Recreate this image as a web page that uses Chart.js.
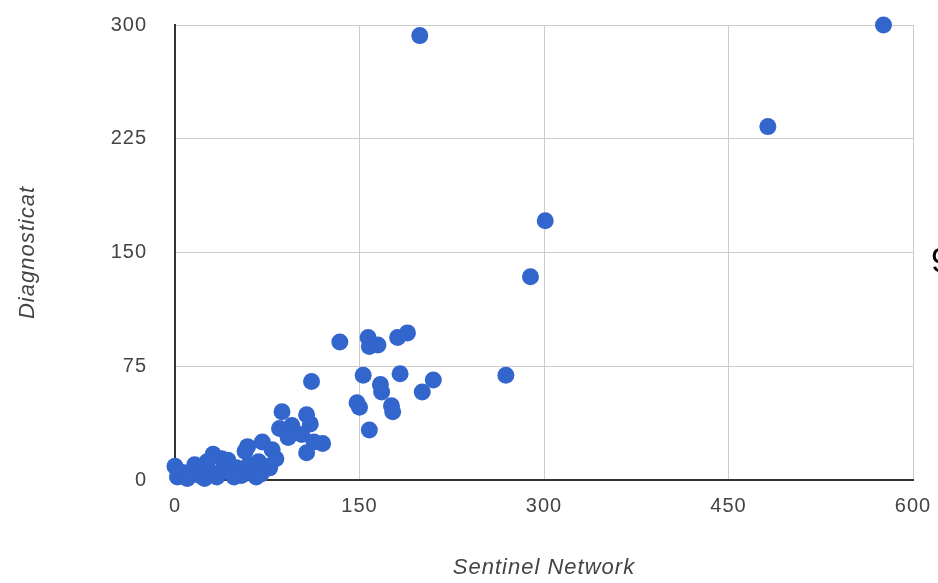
<!DOCTYPE html>
<html>
<head>
<meta charset="utf-8">
<script src="https://cdn.jsdelivr.net/npm/chart.js@4"></script>
<style>
  html, body { margin: 0; padding: 0; background: #fff; overflow: hidden; }
  #wrap { position: relative; width: 938px; height: 583px; }
  #cut { position: absolute; left: 931px; top: 242px; font: 35px "Liberation Sans", Arial, sans-serif; line-height: 35px; color: #000; }
</style>
</head>
<body>
<div id="wrap">
  <canvas id="chart" width="938" height="583"></canvas>
  <span id="cut">9</span>
</div>
<script>
// Sentinel Network (x) vs Diagnosticat (y)
const sentinel = [
  576, 199, 482, 301, 289, 269, 210, 201,
  189, 181, 134, 157, 158, 165,
  153, 183, 167, 168, 148, 150, 176, 177, 158, 111,
  87, 107, 110, 85, 103, 120, 107, 71, 79, 59, 95, 92, 113,
  0, 2, 6, 10, 16, 20, 24, 28, 31, 34, 38, 43, 45, 50, 54, 57, 60, 63, 66, 68, 73, 77, 82, 40, 26, 12, 48, 70
];
const diagnosticat = [
  300, 293, 233, 171, 134, 69, 66, 58,
  97, 94, 91, 94, 88, 89,
  69, 70, 63, 58, 51, 48, 49, 45, 33, 65,
  45, 43, 37, 34, 30, 24, 18, 25, 20, 22, 36, 28, 25,
  9, 2, 5, 1, 10, 3, 1, 6, 17, 2, 14, 13, 5, 8, 3, 19, 10, 6, 2, 12, 9, 8, 14, 9, 12, 4, 2, 4
];
const xTicks = [0, 150, 300, 450, 600];
const yTicks = [0, 75, 150, 225, 300];

const points = sentinel.map((x, i) => ({ x, y: diagnosticat[i] }));

const spacing = {
  id: 'spacing',
  beforeUpdate(chart) { chart.ctx.letterSpacing = '1px'; },
  beforeDraw(chart) { chart.ctx.letterSpacing = '1px'; }
};

// keep the plot box where the layout padding says, ignore label overhang
function noOverhang(axis) {
  axis.paddingTop = 0;
  axis.paddingBottom = 0;
  axis.paddingLeft = 0;
  axis.paddingRight = 0;
}

const tickFont = { family: '"Liberation Sans", Arial, sans-serif', size: 20 };
const titleFont = { family: '"Liberation Sans", Arial, sans-serif', size: 22, style: 'italic' };

new Chart(document.getElementById('chart').getContext('2d'), {
  type: 'scatter',
  data: {
    datasets: [{
      data: points,
      backgroundColor: '#3366cc',
      borderColor: '#3366cc',
      borderWidth: 0,
      pointRadius: 8.5,
      pointHoverRadius: 8.5,
      clip: false,
    }],
  },
  options: {
    responsive: false,
    animation: false,
    devicePixelRatio: 1,
    layout: { padding: { left: 0, top: 25, right: 25, bottom: 0 } },
    plugins: { legend: { display: false }, tooltip: { enabled: false } },
    scales: {
      x: {
        type: 'linear',
        min: 0,
        max: 600,
        afterBuildTicks: axis => { axis.ticks = xTicks.map(v => ({ value: v })); },
        afterFit: axis => { axis.height = 103; noOverhang(axis); },
        grid: { color: '#cccccc', lineWidth: 1, drawTicks: false },
        border: { color: '#333333', width: 2 },
        ticks: { color: '#444444', font: tickFont, padding: 14, maxRotation: 0 },
        title: { display: true, text: 'Sentinel Network', color: '#444444', font: titleFont, padding: { top: 0, bottom: 2 } },
      },
      y: {
        type: 'linear',
        min: 0,
        max: 300,
        afterBuildTicks: axis => { axis.ticks = yTicks.map(v => ({ value: v })); },
        afterFit: axis => { axis.width = 175; noOverhang(axis); },
        grid: { color: '#cccccc', lineWidth: 1, drawTicks: false },
        border: { color: '#333333', width: 2 },
        ticks: { color: '#444444', font: tickFont, padding: 28 },
        title: { display: true, text: 'Diagnosticat', color: '#444444', font: titleFont, padding: { top: 15, bottom: 0 } },
      },
    },
  },
  plugins: [spacing],
});
</script>
</body>
</html>
